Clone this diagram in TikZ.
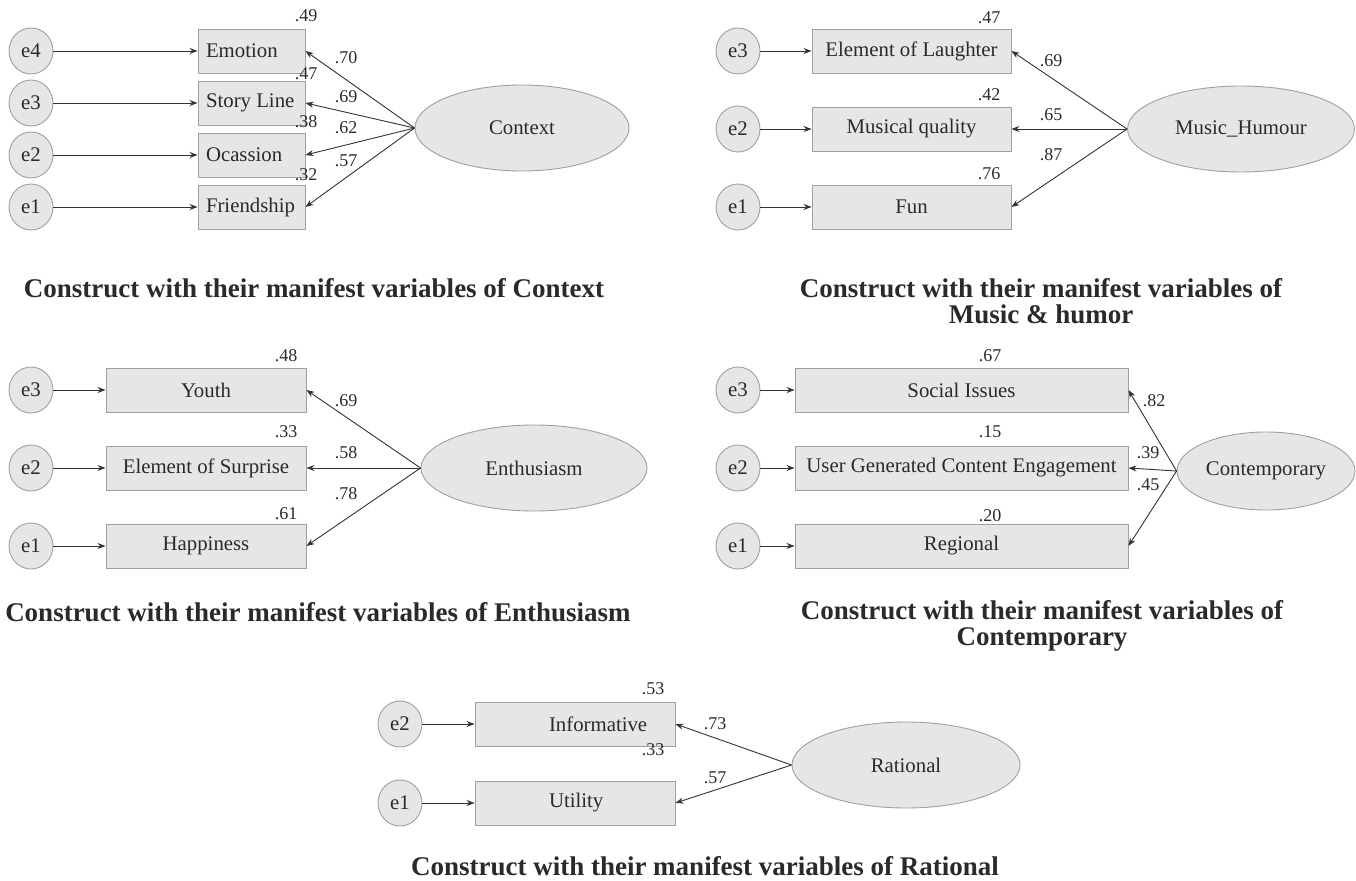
\documentclass[tikz,border=0pt]{standalone}
\usepackage{fontspec}
\setmainfont{Liberation Serif}
\usetikzlibrary{arrows.meta,shapes.geometric}
\definecolor{fillg}{HTML}{E6E6E6}
\definecolor{lineg}{HTML}{A0A0A0}
\definecolor{txt}{HTML}{2A2A2A}
\definecolor{arrc}{HTML}{333333}
\tikzset{
  base/.style={fill=fillg,draw=lineg,line width=0.9pt,text=txt,font=\fontsize{20.8}{24}\selectfont},
  err/.style={base,ellipse,minimum width=44pt,minimum height=46pt,inner sep=0pt},
  obs/.style={base,rectangle,minimum height=44pt,inner sep=0pt},
  lat/.style={base,ellipse,inner sep=0pt},
  arr/.style={draw=arrc,line width=0.9pt,-{Stealth[length=8pt,width=6pt]}},
  num/.style={text=txt,font=\fontsize{18}{20}\selectfont,inner sep=0pt},
  ttl/.style={text=txt,font=\bfseries\fontsize{27}{26.5}\selectfont,inner sep=0pt,align=center}
}
\begin{document}
\begin{tikzpicture}[x=1pt,y=-1pt]
\useasboundingbox (0,0) rectangle (1356,880);
\fill[white] (0,0) rectangle (1356,880);

% ---------- Panel 1: Context ----------
\node[err] (ae4) at (31,51) {e4};
\node[err] (ae3) at (31,103) {e3};
\node[err] (ae2) at (31,155) {e2};
\node[err] (ae1) at (31,207) {e1};
\node[obs,minimum width=107pt,inner xsep=8pt] (av4) at (251.5,51) {\makebox[91pt][l]{Emotion}};
\node[obs,minimum width=107pt,inner xsep=8pt] (av3) at (251.5,103) {\makebox[91pt][l]{Story Line}};
\node[obs,minimum width=107pt,inner xsep=8pt] (av2) at (251.5,155) {\makebox[91pt][l]{Ocassion}};
\node[obs,minimum width=107pt,inner xsep=8pt] (av1) at (251.5,207) {\makebox[91pt][l]{Friendship}};
\node[lat,minimum width=214pt,minimum height=86pt] (alat) at (522,128) {Context};
\foreach \i in {1,...,4} {\draw[arr] (ae\i) -- (av\i);}
\foreach \i in {1,...,4} {\draw[arr] (alat.west) -- (av\i.east);}
\node[num] (al4) at (346,58) {.70};
\node[num] (al3) at (346,97) {.69};
\node[num] (al2) at (346,128) {.62};
\node[num] (al1) at (346,161) {.57};
\node[num] (ar4) at (306,16) {.49};
\node[num] (ar3) at (306,74) {.47};
\node[num] (ar2) at (306,122) {.38};
\node[num] (ar1) at (306,175) {.32};
\node[ttl] (at) at (314,288) {Construct with their manifest variables of Context};

% ---------- Panel 2: Music_Humour ----------
\node[err] (be3) at (738,51) {e3};
\node[err] (be2) at (738,129) {e2};
\node[err] (be1) at (738,207) {e1};
\node[obs,minimum width=199pt] (bv3) at (911.5,51) {Element of Laughter};
\node[obs,minimum width=199pt] (bv2) at (911.5,129) {Musical quality};
\node[obs,minimum width=199pt] (bv1) at (911.5,207) {Fun};
\node[lat,minimum width=227pt,minimum height=86pt] (blat) at (1241,129) {Music\_Humour};
\foreach \i in {1,2,3} {\draw[arr] (be\i) -- (bv\i); \draw[arr] (blat.west) -- (bv\i.east);}
\node[num] (bl3) at (1051,61) {.69};
\node[num] (bl2) at (1051,115) {.65};
\node[num] (bl1) at (1051,155) {.87};
\node[num] (br3) at (989,18) {.47};
\node[num] (br2) at (989,95) {.42};
\node[num] (br1) at (989,174) {.76};
\node[ttl] (bt) at (1041,301) {Construct with their manifest variables of\\Music \& humor};

% ---------- Panel 3: Enthusiasm ----------
\node[err] (ce3) at (31,390) {e3};
\node[err] (ce2) at (31,468) {e2};
\node[err] (ce1) at (31,546) {e1};
\node[obs,minimum width=200pt] (cv3) at (206,390) {Youth};
\node[obs,minimum width=200pt] (cv2) at (206,468) {Element of Surprise};
\node[obs,minimum width=200pt] (cv1) at (206,546) {Happiness};
\node[lat,minimum width=226pt,minimum height=86pt] (clat) at (534,468) {Enthusiasm};
\foreach \i in {1,2,3} {\draw[arr] (ce\i) -- (cv\i); \draw[arr] (clat.west) -- (cv\i.east);}
\node[num] (cl3) at (346,401) {.69};
\node[num] (cl2) at (346,453) {.58};
\node[num] (cl1) at (346,494) {.78};
\node[num] (cr3) at (286,356) {.48};
\node[num] (cr2) at (286,432) {.33};
\node[num] (cr1) at (286,514) {.61};
\node[ttl] (ct) at (318,612) {Construct with their manifest variables of Enthusiasm};

% ---------- Panel 4: Contemporary ----------
\node[err] (de3) at (738,390) {e3};
\node[err] (de2) at (738,468) {e2};
\node[err] (de1) at (738,546) {e1};
\node[obs,minimum width=333pt] (dv3) at (961.5,390) {Social Issues};
\node[obs,minimum width=333pt] (dv2) at (961.5,468) {User Generated Content Engagement};
\node[obs,minimum width=333pt] (dv1) at (961.5,546) {Regional};
\node[lat,minimum width=178pt,minimum height=78pt] (dlat) at (1266,471) {Contemporary};
\foreach \i in {1,2,3} {\draw[arr] (de\i) -- (dv\i); \draw[arr] (dlat.west) -- (dv\i.east);}
\node[num] (dl3) at (1154,401) {.82};
\node[num] (dl2) at (1148,453) {.39};
\node[num] (dl1) at (1148,485) {.45};
\node[num] (dr3) at (990,356) {.67};
\node[num] (dr2) at (990,432) {.15};
\node[num] (dr1) at (990,516) {.20};
\node[ttl] (dt) at (1042,626) {Construct with their manifest variables of\\Contemporary};

% ---------- Panel 5: Rational ----------
\node[err] (ee2) at (400,724) {e2};
\node[err] (ee1) at (400,803) {e1};
\node[obs,minimum width=200pt,inner xsep=74pt] (ev2) at (575,724) {\makebox[52pt][l]{Informative}};
\node[obs,minimum width=200pt,inner xsep=74pt] (ev1) at (575,803) {\makebox[52pt][l]{Utility}};
\node[lat,minimum width=228pt,minimum height=86pt] (elat) at (906,765) {Rational};
\foreach \i in {1,2} {\draw[arr] (ee\i) -- (ev\i); \draw[arr] (elat.west) -- (ev\i.east);}
\node[num] (el2) at (715,724) {.73};
\node[num] (el1) at (715,778) {.57};
\node[num] (er2) at (653,689) {.53};
\node[num] (er1) at (653,750) {.33};
\node[ttl] (et) at (705,866) {Construct with their manifest variables of Rational};
\end{tikzpicture}
\end{document}
